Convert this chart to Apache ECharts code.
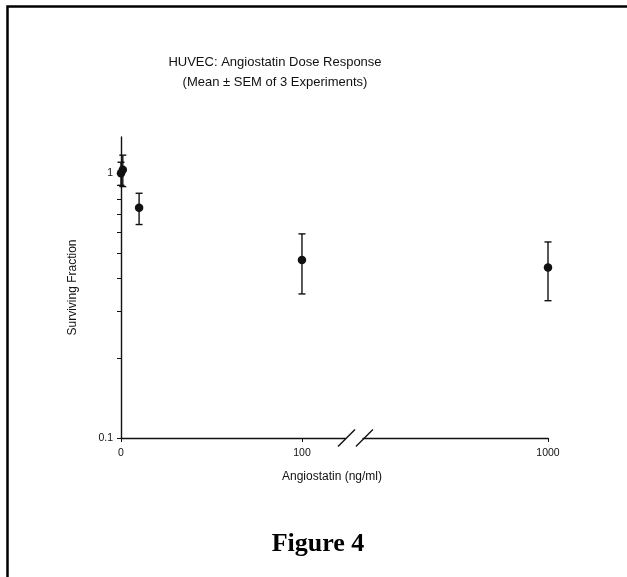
<!DOCTYPE html>
<html>
<head>
<meta charset="utf-8">
<script src="https://cdn.jsdelivr.net/npm/echarts@6/dist/echarts.min.js"></script>
<style>html,body{margin:0;padding:0;background:#fff;}#c{width:627px;height:577px;}</style>
</head>
<body>
<div id="c"></div>
<script>
// ---- data ----
const doses = [0, 1, 10, 100, 1000];            // ng/ml
const means = [1.00, 1.03, 0.74, 0.47, 0.44];   // surviving fraction
const sems  = [0.10, 0.14, 0.10, 0.12, 0.11];
const xTickLabels1 = [0, 100];
const xTickLabels2 = [1000];
const yLabelValues = [0.1, 1];
const yTickValues = [0.1, 0.2, 0.3, 0.4, 0.5, 0.6, 0.7, 0.8, 0.9, 1];
const breakMarks = [124.6, 134.5];
const breakAt = 124;
const yMin = 0.1, yMax = 1.37;

const ink = '#111';
const font = 'Liberation Sans, Arial, sans-serif';

const pts1 = [], pts2 = [], err1 = [], err2 = [];
doses.forEach((d, i) => {
  const p = [d, means[i]];
  const e = [d, means[i] - sems[i], means[i] + sems[i]];
  if (d <= breakAt) { pts1.push(p); err1.push(e); } else { pts2.push(p); err2.push(e); }
});

function errRender(params, api) {
  const x = api.value(0), lo = api.value(1), hi = api.value(2);
  const a = api.coord([x, hi]), b = api.coord([x, lo]);
  const w = 3.5, st = { stroke: ink, lineWidth: 1.4 };
  return { type: 'group', children: [
    { type: 'line', shape: { x1: a[0], y1: a[1], x2: b[0], y2: b[1] }, style: st },
    { type: 'line', shape: { x1: a[0] - w, y1: a[1], x2: a[0] + w, y2: a[1] }, style: st },
    { type: 'line', shape: { x1: b[0] - w, y1: b[1], x2: b[0] + w, y2: b[1] }, style: st }
  ]};
}
function breakRender(params, api) {
  const c = api.coord([api.value(0), yMin]);
  const h = 8.5;
  return { type: 'line', shape: { x1: c[0] - h, y1: c[1] + h, x2: c[0] + h, y2: c[1] - h },
           style: { stroke: ink, lineWidth: 1.4 } };
}

const commonY = {
  type: 'log', logBase: 10, min: yMin, max: yMax,
  splitLine: { show: false }, minorTick: { show: false }
};
const chart = echarts.init(document.getElementById('c'), null, { renderer: 'canvas' });
chart.setOption({
  backgroundColor: '#fff',
  animation: false,
  grid: [
    { left: 121, top: 137, width: 224.4, height: 301, containLabel: false, outerBoundsMode: 'none' },
    { left: 363, top: 137, width: 185, height: 301, containLabel: false, outerBoundsMode: 'none' }
  ],
  xAxis: [
    { type: 'value', gridIndex: 0, min: 0, max: breakAt, splitLine: { show: false },
      axisLine: { show: true, lineStyle: { color: ink, width: 1.4 } },
      axisTick: { show: true, customValues: xTickLabels1, length: 4, inside: false, lineStyle: { color: ink, width: 1 } },
      axisLabel: { customValues: xTickLabels1, color: ink, fontSize: 10.5, fontFamily: font, margin: 10, formatter: v => String(v) } },
    { type: 'value', gridIndex: 1, min: 900, max: 1000, splitLine: { show: false },
      axisLine: { show: true, lineStyle: { color: ink, width: 1.4 } },
      axisTick: { show: true, customValues: xTickLabels2, length: 4, lineStyle: { color: ink, width: 1 } },
      axisLabel: { customValues: xTickLabels2, color: ink, fontSize: 10.5, fontFamily: font, margin: 10, formatter: v => String(v) } }
  ],
  yAxis: [
    Object.assign({}, commonY, { gridIndex: 0,
      name: 'Surviving Fraction', nameLocation: 'middle', nameGap: 42,
      nameTextStyle: { color: ink, fontSize: 12, fontFamily: font },
      axisLine: { show: true, lineStyle: { color: ink, width: 1.4 } },
      axisTick: { show: true, customValues: yTickValues, length: 4, lineStyle: { color: ink, width: 1 } },
      axisLabel: { customValues: yLabelValues, color: ink, fontSize: 10.5, fontFamily: font, margin: 8,
                   formatter: v => String(v) } }),
    Object.assign({}, commonY, { gridIndex: 1, show: false })
  ],
  graphic: [
    { type: 'rect', shape: { x: 7.5, y: 6.5, width: 800, height: 800 }, style: { fill: 'none', stroke: '#000', lineWidth: 2.5 }, silent: true },
    { type: 'text', style: { x: 275, y: 62, text: 'HUVEC: Angiostatin Dose Response', align: 'center', verticalAlign: 'middle', fill: ink, font: '13px ' + font } },
    { type: 'text', style: { x: 275, y: 82, text: '(Mean ± SEM of 3 Experiments)', align: 'center', verticalAlign: 'middle', fill: ink, font: '13px ' + font } },
    { type: 'text', style: { x: 332, y: 477, text: 'Angiostatin (ng/ml)', align: 'center', verticalAlign: 'middle', fill: ink, font: '12px ' + font } },
    { type: 'text', style: { x: 318, y: 544, text: 'Figure 4', align: 'center', verticalAlign: 'middle', fill: '#000', font: 'bold 26px Liberation Serif, Times New Roman, serif' } }
  ],
  series: [
    { type: 'custom', xAxisIndex: 0, yAxisIndex: 0, data: err1, renderItem: errRender, encode: { x: 0, y: [1, 2] }, z: 3 },
    { type: 'custom', xAxisIndex: 1, yAxisIndex: 1, data: err2, renderItem: errRender, encode: { x: 0, y: [1, 2] }, z: 3 },
    { type: 'scatter', xAxisIndex: 0, yAxisIndex: 0, data: pts1, symbol: 'circle', symbolSize: 8.5, itemStyle: { color: ink, opacity: 1 }, z: 4 },
    { type: 'scatter', xAxisIndex: 1, yAxisIndex: 1, data: pts2, symbol: 'circle', symbolSize: 8.5, itemStyle: { color: ink, opacity: 1 }, z: 4 },
    { type: 'custom', xAxisIndex: 0, yAxisIndex: 0, data: breakMarks.map(v => [v]), renderItem: breakRender, encode: { x: 0 }, z: 5 }
  ]
});
</script>
</body>
</html>
